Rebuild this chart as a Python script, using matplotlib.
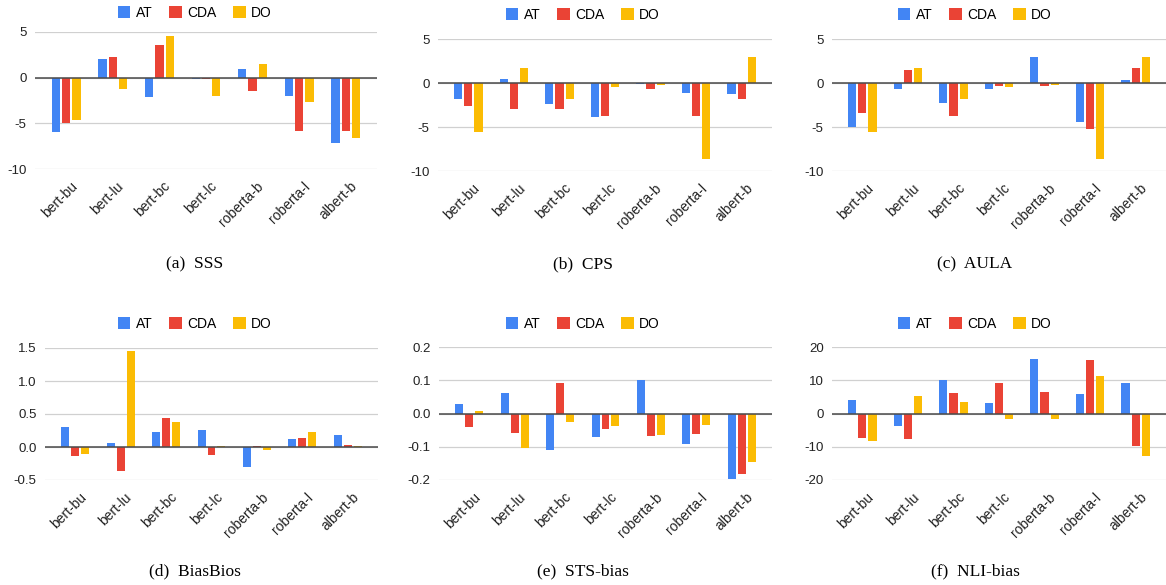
import numpy as np
import matplotlib
matplotlib.use('Agg')
import matplotlib.pyplot as plt
import matplotlib.transforms as mtransforms
from matplotlib.patches import Patch

plt.rcParams['font.family'] = ['Liberation Sans', 'DejaVu Sans']

models = ['bert-bu', 'bert-lu', 'bert-bc', 'bert-lc', 'roberta-b', 'roberta-l', 'albert-b']
methods = ['AT', 'CDA', 'DO']
colors = ['#4285F4', '#EA4335', '#FBBC04']

# values per panel: AT, CDA, DO
sss_at = [-5.9, 2.0, -2.1, -0.1, 0.95, -2.0, -7.2]
sss_cda = [-5.0, 2.3, 3.55, -0.2, -1.45, -5.8, -5.8]
sss_do = [-4.6, -1.2, 4.6, -2.0, 1.5, -2.65, -6.6]

cps_at = [-1.85, 0.45, -2.35, -3.9, -0.1, -1.15, -1.25]
cps_cda = [-2.65, -2.95, -2.95, -3.8, -0.7, -3.8, -1.85]
cps_do = [-5.6, 1.75, -1.85, -0.45, -0.2, -8.6, 2.9]

aula_at = [-5.0, -0.7, -2.25, -0.65, 3.0, -4.4, 0.35]
aula_cda = [-3.4, 1.45, -3.8, -0.35, -0.3, -5.25, 1.75]
aula_do = [-5.6, 1.75, -1.85, -0.45, -0.2, -8.6, 2.9]

bios_at = [0.30, 0.055, 0.23, 0.26, -0.30, 0.125, 0.18]
bios_cda = [-0.135, -0.36, 0.44, -0.12, 0.015, 0.14, 0.035]
bios_do = [-0.10, 1.45, 0.385, 0.01, -0.045, 0.22, 0.015]

sts_at = [0.028, 0.063, -0.11, -0.07, 0.101, -0.092, -0.196]
sts_cda = [-0.042, -0.059, 0.091, -0.046, -0.067, -0.062, -0.182]
sts_do = [0.008, -0.103, -0.026, -0.037, -0.065, -0.034, -0.146]

nli_at = [4.0, -3.7, 10.1, 3.2, 16.5, 6.0, 9.1]
nli_cda = [-7.3, -7.6, 6.3, 9.3, 6.5, 16.2, -9.8]
nli_do = [-8.2, 5.2, 3.4, -1.8, -1.8, 11.3, -12.8]

W, H = 1166, 585
fig = plt.figure(figsize=(W / 100, H / 100), dpi=100)


def px_axes(x0, x1, y0, y1):
    return fig.add_axes([x0 / W, 1 - y1 / H, (x1 - x0) / W, (y1 - y0) / H])


panels = [
    ((35, 377, 32, 169), (sss_at, sss_cda, sss_do), (-10, 5), [-10, -5, 0, 5], '%g',
     '(a)  SSS', 195, 264, 13),
    ((438, 772, 39, 171), (cps_at, cps_cda, cps_do), (-10, 5), [-10, -5, 0, 5], '%g',
     '(b)  CPS', 583, 264, 15),
    ((832, 1166, 39, 171), (aula_at, aula_cda, aula_do), (-10, 5), [-10, -5, 0, 5], '%g',
     '(c)  AULA', 975, 264, 15),
    ((45, 378, 348, 480), (bios_at, bios_cda, bios_do), (-0.5, 1.5), [-0.5, 0, 0.5, 1.0, 1.5], '%.1f',
     '(d)  BiasBios', 195, 571, 324),
    ((439, 772, 347, 480), (sts_at, sts_cda, sts_do), (-0.2, 0.2), [-0.2, -0.1, 0, 0.1, 0.2], '%.1f',
     '(e)  STS-bias', 583, 571, 324),
    ((832, 1166, 347, 480), (nli_at, nli_cda, nli_do), (-20, 20), [-20, -10, 0, 10, 20], '%g',
     '(f)  NLI-bias', 975, 571, 324),
]

x = np.arange(len(models))
bw = 0.176
off = 0.22
shift = mtransforms.ScaledTranslation(0.04, -0.10, fig.dpi_scale_trans)

for rect, series, ylim, ticks, fmt, caption, cx, cy, ly in panels:
    ax = px_axes(*rect)
    for i, vals in enumerate(series):
        ax.bar(x + (i - 1) * off, vals, width=bw, color=colors[i], zorder=3)
    ax.set_xlim(-0.67, 6.67)
    ax.set_ylim(*ylim)
    ax.set_yticks(ticks)
    ax.set_yticklabels([fmt % t for t in ticks], fontsize=9.5, color='#222222')
    ax.yaxis.grid(True, color='#d0d0d0', linewidth=0.9, zorder=0)
    ax.axhline(0, color='#4a4a4a', linewidth=1.1, zorder=4)
    ax.set_xticks(x)
    ax.set_xticklabels([])
    tr = ax.get_xaxis_transform() + shift
    for xi, name in zip(x, models):
        ax.text(xi, 0, name, transform=tr, rotation=45, ha='right', va='top',
                rotation_mode='anchor', fontsize=10, color='#222222')
    ax.tick_params(axis='both', length=0, pad=6)
    for s in ax.spines.values():
        s.set_visible(False)
    handles = [Patch(facecolor=c, edgecolor='none') for c in colors]
    fig.legend(handles, methods, loc='center', bbox_to_anchor=(cx / W, 1 - ly / H),
               ncol=3, frameon=False, fontsize=10, handlelength=0.9, handleheight=0.9,
               handletextpad=0.4, columnspacing=1.2)
    fig.text(cx / W, 1 - cy / H, caption, ha='center', va='center',
             fontsize=12.5, family=['Liberation Serif', 'DejaVu Serif'])

plt.savefig('out.png', dpi=100)
